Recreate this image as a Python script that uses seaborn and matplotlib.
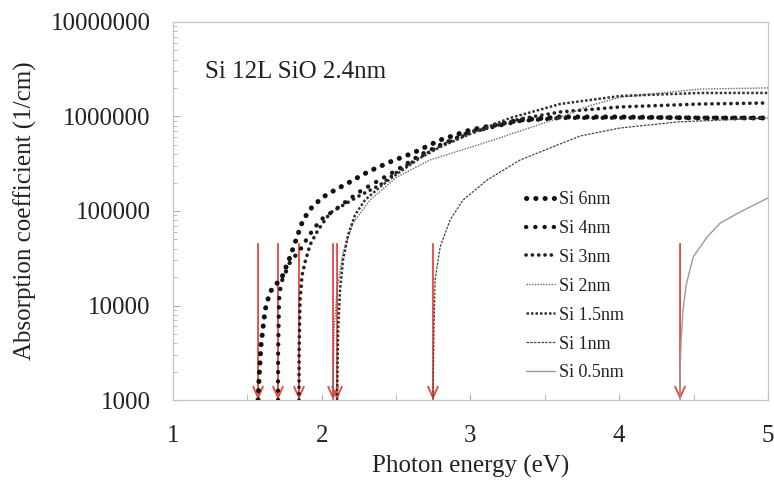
import numpy as np
import pandas as pd
import matplotlib
matplotlib.use("Agg")
import matplotlib.pyplot as plt
import matplotlib.ticker as mticker
import seaborn as sns

# ---------------- data ----------------
series_names = ["Si 6nm", "Si 4nm", "Si 3nm", "Si 2nm", "Si 1.5nm", "Si 1nm", "Si 0.5nm"]

e_6nm = [1.572, 1.578, 1.592, 1.619, 1.652, 1.733, 1.787, 1.834, 1.874, 1.935, 2.009, 2.089,
         2.177, 2.271, 2.338, 2.459, 2.614, 2.796, 2.997, 3.334, 3.603, 4.006, 4.545, 5.0]
a_6nm = [1000, 1630, 3820, 8950, 13900, 20000, 32600, 53100, 80400, 110200, 140600, 166700,
         197700, 240400, 271600, 330400, 411100, 563600, 719500, 918300, 988600, 988600, 963900, 963900]

e_4nm = [1.706, 1.707, 1.713, 1.726, 1.787, 1.854, 1.908, 1.955, 2.009, 2.089, 2.177, 2.271,
         2.506, 2.661, 2.796, 2.997, 3.334, 3.603, 4.3, 5.0]
a_4nm = [1000, 3380, 11400, 17300, 28800, 38600, 53100, 67800, 84300, 102600, 130600, 166700,
         271600, 391700, 498900, 685500, 895400, 963900, 975000, 963900]

e_3nm = [1.847, 1.848, 1.854, 1.868, 1.888, 1.921, 1.975, 2.056, 2.157, 2.237, 2.392, 2.506,
         2.661, 2.796, 2.997, 3.334, 3.603, 4.006, 4.545, 5.0]
a_3nm = [1000, 3380, 11400, 21000, 28800, 43700, 63000, 95300, 118600, 140600, 188400, 258800,
         372400, 487500, 668300, 941900, 1116800, 1261900, 1355200, 1389900]

e_2nm = [2.076, 2.083, 2.103, 2.143, 2.210, 2.325, 2.506, 2.728, 3.112, 3.555, 3.800, 4.006, 4.545, 5.0]
a_2nm = [1000, 5510, 14600, 36000, 74600, 130600, 229100, 346700, 537000, 918300, 1300000, 1600000, 1950000, 2004500]

e_15nm = [2.103, 2.110, 2.123, 2.143, 2.177, 2.224, 2.291, 2.392, 2.506, 2.661, 2.796, 2.997,
          3.266, 3.603, 4.006, 4.545, 5.0]
a_15nm = [1000, 5510, 14600, 30300, 55700, 90800, 130600, 179500, 246600, 363900, 475300, 653100,
          963900, 1355200, 1648200, 1774200, 1774200]

e_1nm = [2.748, 2.755, 2.762, 2.796, 2.863, 2.950, 3.112, 3.334, 3.737, 4.006, 4.389, 5.0]
a_1nm = [1000, 5510, 18600, 41600, 80400, 130600, 212800, 346700, 622300, 755100, 874900, 963900]

e_05nm = [4.409, 4.410, 4.416, 4.429, 4.450, 4.497, 4.591, 4.679, 4.813, 5.0]
a_05nm = [1000, 2080, 4320, 8950, 16500, 32600, 53100, 74600, 97500, 137400]

# band-gap arrows
arrow_energies = [1.572, 1.706, 1.847, 2.076, 2.103, 2.748, 4.409]
arrow_top = 45000
arrow_bottom = 1000

y_ticks = [1000, 10000, 100000, 1000000, 10000000]
y_ticklabels = ["1000", "10000", "100000", "1000000", "10000000"]
x_ticks = [1, 2, 3, 4, 5]
x_ticklabels = ["1", "2", "3", "4", "5"]

title_text = "Si 12L SiO 2.4nm"
xlabel = "Photon energy (eV)"
ylabel = "Absorption coefficient (1/cm)"

# ---------------- styling ----------------
sns.set_style("white")
plt.rcParams["font.family"] = ["Liberation Serif", "DejaVu Serif"]

fig = plt.figure(figsize=(7.74, 4.83), dpi=100)
ax = fig.add_axes([0.2235, 0.1718, 0.7687, 0.7827])

styles = {
    "Si 6nm":   dict(color="#111111", lw=3.6, ls=(0, (0.05, 1.8)), cap="round"),
    "Si 4nm":   dict(color="#151515", lw=3.1, ls=(0, (0.05, 2.1)), cap="round"),
    "Si 3nm":   dict(color="#222222", lw=2.6, ls=(0, (0.05, 1.7)), cap="round"),
    "Si 2nm":   dict(color="#666666", lw=1.0, ls=(0, (1.0, 1.0)), cap="butt"),
    "Si 1.5nm": dict(color="#333333", lw=1.8, ls=(0, (1.0, 0.8)), cap="butt"),
    "Si 1nm":   dict(color="#444444", lw=0.9, ls=(0, (2.0, 1.0)), cap="butt"),
    "Si 0.5nm": dict(color="#9a9a9a", lw=1.0, ls="-", cap="butt"),
}

data = {
    "Si 6nm": (e_6nm, a_6nm),
    "Si 4nm": (e_4nm, a_4nm),
    "Si 3nm": (e_3nm, a_3nm),
    "Si 2nm": (e_2nm, a_2nm),
    "Si 1.5nm": (e_15nm, a_15nm),
    "Si 1nm": (e_1nm, a_1nm),
    "Si 0.5nm": (e_05nm, a_05nm),
}

# red arrows (drawn first, behind curves)
for e in arrow_energies:
    ax.annotate("", xy=(e, arrow_bottom), xytext=(e, arrow_top),
                arrowprops=dict(arrowstyle="->,head_length=0.8,head_width=0.35",
                                color="#e8453c", lw=1.3, shrinkA=0, shrinkB=0),
                zorder=1)

for name in series_names:
    e, a = data[name]
    st = styles[name]
    df = pd.DataFrame({"E": e, "A": a})
    sns.lineplot(data=df, x="E", y="A", ax=ax, sort=False, estimator=None,
                 color=st["color"], linewidth=st["lw"], linestyle=st["ls"],
                 dash_capstyle=st["cap"], label=name, zorder=3)

ax.set_yscale("log")
ax.set_xlim(1, 5)
ax.set_ylim(1000, 10000000)

ax.yaxis.set_major_locator(mticker.FixedLocator(y_ticks))
ax.yaxis.set_major_formatter(mticker.FixedFormatter(y_ticklabels))
ax.yaxis.set_minor_locator(mticker.LogLocator(base=10, subs=np.arange(2, 10)))
ax.yaxis.set_minor_formatter(mticker.NullFormatter())
ax.xaxis.set_major_locator(mticker.FixedLocator(x_ticks))
ax.xaxis.set_major_formatter(mticker.FixedFormatter(x_ticklabels))
ax.xaxis.set_minor_locator(mticker.MultipleLocator(0.5))

ax.tick_params(axis="both", which="both", direction="in", color="#b0b0b0",
               labelsize=18, labelcolor="#222222")
ax.tick_params(axis="y", which="major", length=5, pad=16, left=True)
ax.tick_params(axis="y", which="minor", length=3, left=True)
ax.tick_params(axis="x", which="major", length=4, pad=18, bottom=True)
ax.tick_params(axis="x", which="minor", length=4, bottom=True)

for sp in ax.spines.values():
    sp.set_color("#c4c4c4")
    sp.set_linewidth(0.9)

ax.set_xlabel(xlabel, fontsize=18, color="#222222", labelpad=6)
ax.set_ylabel(ylabel, fontsize=18, color="#222222", labelpad=10)

ax.text(0.054, 0.868, title_text, transform=ax.transAxes, fontsize=18,
        color="#222222", va="center", ha="left")

leg = ax.legend(loc="upper left", bbox_to_anchor=(0.593, 0.553), frameon=False,
                fontsize=13, handlelength=1.6, handletextpad=0.25,
                labelspacing=0.66, borderpad=0, borderaxespad=0)
for t in leg.get_texts():
    t.set_color("#222222")

fig.savefig("out.png", dpi=100)
